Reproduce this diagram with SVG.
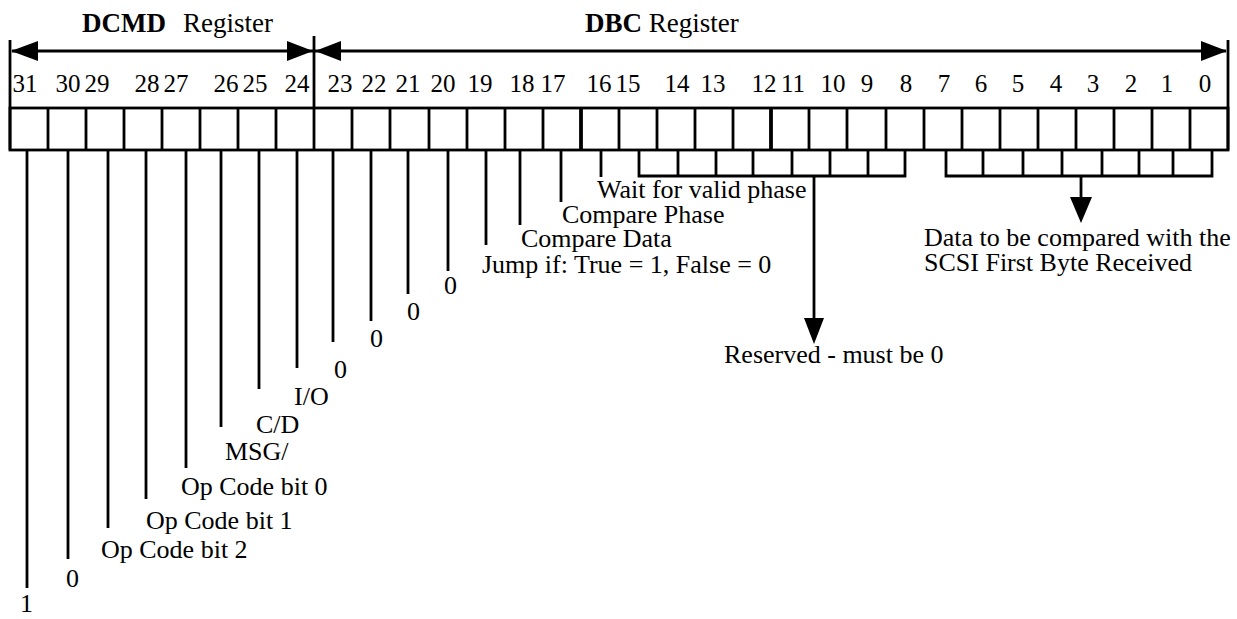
<svg xmlns="http://www.w3.org/2000/svg" width="1237" height="619" viewBox="0 0 1237 619">
<style>
  text { font-family: "Liberation Serif", "Times New Roman", serif; font-size: 26px; fill: #000; }
  .num { text-anchor: middle; font-size: 25px; }
  .ttl { font-size: 27px; }
  .b { font-weight: bold; }
  .ln { stroke: #000; stroke-width: 2.8; fill: none; }
  .thk { stroke: #000; stroke-width: 3.8; fill: none; }
  .ah { fill: #000; stroke: none; }
</style>
<rect width="1237" height="619" fill="#fff"/>

<g id="titles">
  <text class="ttl b" x="82" y="32">DCMD</text>
  <text class="ttl" x="183" y="32">Register</text>
  <text class="ttl" x="585" y="32"><tspan class="b">DBC</tspan> Register</text>
</g>

<g id="span-arrows">
  <line class="ln" x1="10" y1="40" x2="10" y2="150"/>
  <line class="ln" x1="314" y1="36" x2="314" y2="150"/>
  <line class="ln" x1="1228" y1="40" x2="1228" y2="150"/>
  <line class="ln" x1="12" y1="51" x2="1226" y2="51"/>
  <polygon class="ah" points="11,51 38,41 38,61"/>
  <polygon class="ah" points="313,51 287,41 287,61"/>
  <polygon class="ah" points="315,51 341,41 341,61"/>
  <polygon class="ah" points="1227,51 1201,41 1201,61"/>
</g>

<g id="bit-numbers">
  <text class="num" x="25" y="92">31</text>
  <text class="num" x="68" y="92">30</text>
  <text class="num" x="97" y="92">29</text>
  <text class="num" x="147" y="92">28</text>
  <text class="num" x="176" y="92">27</text>
  <text class="num" x="226" y="92">26</text>
  <text class="num" x="255" y="92">25</text>
  <text class="num" x="297" y="92">24</text>
  <text class="num" x="340" y="92">23</text>
  <text class="num" x="374" y="92">22</text>
  <text class="num" x="408" y="92">21</text>
  <text class="num" x="443" y="92">20</text>
  <text class="num" x="480" y="92">19</text>
  <text class="num" x="522" y="92">18</text>
  <text class="num" x="553" y="92">17</text>
  <text class="num" x="599" y="92">16</text>
  <text class="num" x="628" y="92">15</text>
  <text class="num" x="677" y="92">14</text>
  <text class="num" x="713" y="92">13</text>
  <text class="num" x="764" y="92">12</text>
  <text class="num" x="793" y="92">11</text>
  <text class="num" x="833" y="92">10</text>
  <text class="num" x="867" y="92">9</text>
  <text class="num" x="906" y="92">8</text>
  <text class="num" x="944" y="92">7</text>
  <text class="num" x="981" y="92">6</text>
  <text class="num" x="1018" y="92">5</text>
  <text class="num" x="1056" y="92">4</text>
  <text class="num" x="1093" y="92">3</text>
  <text class="num" x="1131" y="92">2</text>
  <text class="num" x="1167" y="92">1</text>
  <text class="num" x="1205" y="92">0</text>
</g>

<g id="register-cells">
  <rect class="ln" x="10" y="108" width="1218" height="42"/>
  <path class="ln" d="M48,108V150 M86,108V150 M124,108V150 M162,108V150 M200,108V150 M238,108V150 M276,108V150
    M352,108V150 M390,108V150 M429,108V150 M467,108V150 M505,108V150 M543,108V150
    M619,108V150 M657,108V150 M695,108V150 M733,108V150
    M809,108V150 M847,108V150 M886,108V150 M924,108V150 M962,108V150 M1000,108V150 M1038,108V150
    M1076,108V150 M1114,108V150 M1152,108V150 M1190,108V150"/>
  <path class="thk" d="M581,108V150 M771,108V150"/>
</g>

<g id="connectors">
  <path class="ln" d="M27,150V588 M68,150V559 M108,150V528 M146,150V499 M186,150V468 M221,150V427 M259,150V389 M297,150V368
    M333,150V342 M371,150V321 M408,150V294 M448,150V271 M486,150V245 M520,150V225 M561,150V202 M601,150V177"/>
  <path class="ln" d="M639,150V176H905V150 M678,150V176 M716,150V176 M753,150V176 M792,150V176 M830,150V176 M868,150V176"/>
  <line class="ln" x1="814" y1="176" x2="814" y2="322"/>
  <polygon class="ah" points="804,318 824,318 814,344"/>
  <path class="ln" d="M946,150V176H1212V150 M983,150V176 M1023,150V176 M1062,150V176 M1102,150V176 M1139,150V176 M1173,150V176"/>
  <line class="ln" x1="1081" y1="176" x2="1081" y2="200"/>
  <polygon class="ah" points="1070,197 1092,197 1081,223"/>
</g>

<g id="label-bit31"><text x="20" y="612">1</text></g>
<g id="label-bit30"><text x="66" y="587">0</text></g>
<g id="label-bit29"><text x="101" y="558">Op Code bit 2</text></g>
<g id="label-bit28"><text x="146" y="529">Op Code bit 1</text></g>
<g id="label-bit27"><text x="181" y="495">Op Code bit 0</text></g>
<g id="label-bit26"><text x="225" y="460">MSG/</text></g>
<g id="label-bit25"><text x="256" y="433">C/D</text></g>
<g id="label-bit24"><text x="294" y="405">I/O</text></g>
<g id="label-bit23"><text x="334" y="378">0</text></g>
<g id="label-bit22"><text x="370" y="347">0</text></g>
<g id="label-bit21"><text x="407" y="320">0</text></g>
<g id="label-bit20"><text x="444" y="294">0</text></g>
<g id="label-bit19"><text x="482" y="273">Jump if: True = 1, False = 0</text></g>
<g id="label-bit18"><text x="521" y="247">Compare Data</text></g>
<g id="label-bit17"><text x="562" y="223">Compare Phase</text></g>
<g id="label-bit16"><text x="597" y="198">Wait for valid phase</text></g>
<g id="label-reserved"><text x="724" y="363">Reserved - must be 0</text></g>
<g id="label-data">
  <text x="924" y="246">Data to be compared with the</text>
  <text x="924" y="271">SCSI First Byte Received</text>
</g>
</svg>
